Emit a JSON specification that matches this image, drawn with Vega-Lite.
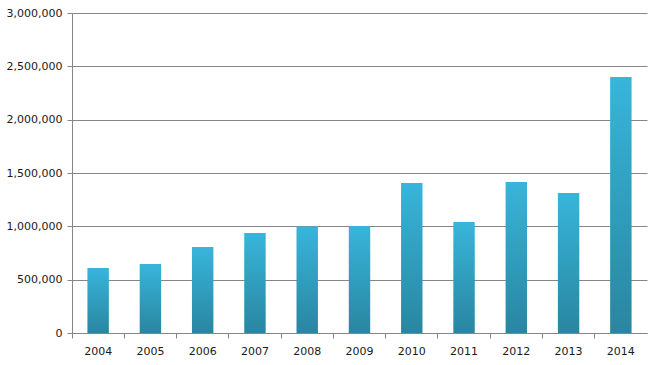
{
  "$schema": "https://vega.github.io/schema/vega-lite/v6.json",
  "autosize": "none",
  "width": 575,
  "height": 320,
  "padding": {"left": 72, "top": 13, "right": 10, "bottom": 32},
  "background": "white",
  "config": {
    "view": {"stroke": null},
    "font": "DejaVu Sans",
    "axis": {
      "labelFont": "DejaVu Sans",
      "labelFontSize": 11,
      "labelColor": "#1a1a1a",
      "domainColor": "#868686",
      "tickColor": "#868686",
      "gridColor": "#868686",
      "gridOpacity": 1,
      "domainWidth": 1,
      "tickWidth": 1,
      "gridWidth": 1,
      "title": null
    }
  },
  "data": {
    "values": [
      {"year": "2004", "value": 610000},
      {"year": "2005", "value": 648000},
      {"year": "2006", "value": 806000},
      {"year": "2007", "value": 937000},
      {"year": "2008", "value": 998000},
      {"year": "2009", "value": 1003000},
      {"year": "2010", "value": 1406000},
      {"year": "2011", "value": 1041000},
      {"year": "2012", "value": 1416000},
      {"year": "2013", "value": 1312000},
      {"year": "2014", "value": 2400000}
    ]
  },
  "mark": {
    "type": "bar",
    "width": {"band": 0.41},
    "color": {
      "gradient": "linear",
      "x1": 0, "y1": 0, "x2": 0, "y2": 1,
      "stops": [
        {"offset": 0, "color": "#38b5db"},
        {"offset": 1, "color": "#2986a0"}
      ]
    }
  },
  "encoding": {
    "x": {
      "field": "year",
      "type": "nominal",
      "sort": null,
      "scale": {"paddingInner": 0, "paddingOuter": 0},
      "axis": {
        "bandPosition": 0,
        "labelAngle": 0,
        "tickSize": 5,
        "labelPadding": 7,
        "grid": false
      }
    },
    "y": {
      "field": "value",
      "type": "quantitative",
      "scale": {"domain": [0, 3000000], "nice": false},
      "axis": {
        "values": [0, 500000, 1000000, 1500000, 2000000, 2500000, 3000000],
        "format": ",.0f",
        "tickSize": 5,
        "labelPadding": 5,
        "grid": true
      }
    }
  }
}
